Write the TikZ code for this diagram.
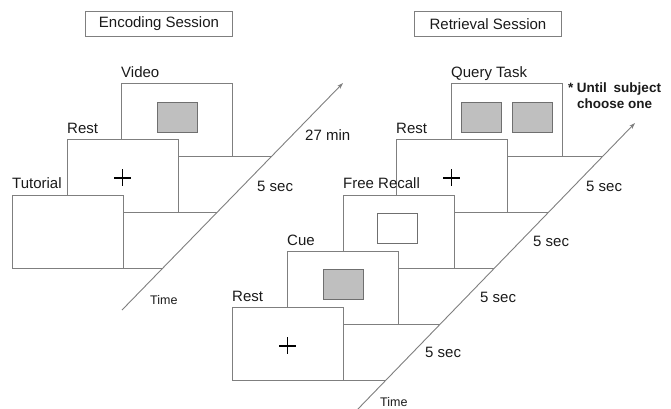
\documentclass[tikz,border=0pt]{standalone}
\usepackage{fontspec}
\setmainfont{Liberation Sans}
\usetikzlibrary{arrows.meta}
\definecolor{linegray}{HTML}{7F7F7F}
\definecolor{stimgray}{HTML}{BFBFBF}
\definecolor{stimedge}{HTML}{6F6F6F}
\definecolor{txt}{HTML}{1A1A1A}
\begin{document}
\begin{tikzpicture}[x=1pt,y=-1pt,
  screen/.style={draw=linegray, fill=white, line width=0.9pt, minimum width=111pt, minimum height=73.5pt, anchor=north west, inner sep=0pt, outer sep=0pt},
  stim/.style={draw=stimedge, fill=stimgray, line width=0.9pt, minimum width=40pt, minimum height=30pt, inner sep=0pt},
  blankstim/.style={stim, fill=white},
  titlebox/.style={draw=linegray, line width=0.9pt, minimum width=147pt, minimum height=25pt, anchor=north west, inner sep=0pt, text=txt, font=\fontsize{15}{18}\selectfont},
  lbl/.style={anchor=base west, inner sep=0pt, text=txt, font=\fontsize{15}{18}\selectfont},
  durlbl/.style={anchor=base west, inner sep=0pt, text=txt, font=\fontsize{15}{18}\selectfont},
  timelbl/.style={anchor=base west, inner sep=0pt, text=txt, font=\fontsize{12.5}{15}\selectfont},
  floorline/.style={draw=linegray, line width=0.9pt},
  timeaxis/.style={draw=linegray, line width=0.9pt, -{Stealth[length=6pt,width=4pt]}},
  cross/.style={draw=black, line width=1.6pt}
]
\useasboundingbox (0,0) rectangle (671,408);

% ---------- titles ----------
\node[titlebox] (enc) at (85,11) {Encoding Session};
\node[titlebox] (ret) at (414,11) {Retrieval Session};

% ---------- encoding session ----------
\coordinate (eA) at (122,310);
\coordinate (eB) at (343,83);

\node[screen] (vid) at (121,83) {};
\node[stim] (vidimg) at (177,117) {};
\draw[floorline] (vid.south east) -- (intersection of eA--eB and vid.south west--vid.south east);
\node[lbl] (vidl) at ([yshift=6pt]vid.north west) {Video};

\node[screen] (rest1) at (67,139) {};
\draw[cross] ([yshift=-2pt]rest1.center) +(-8.5,0) -- +(8.5,0) +(0,-8.5) -- +(0,8.5);
\draw[floorline] (rest1.south east) -- (intersection of eA--eB and rest1.south west--rest1.south east);
\node[lbl] (rest1l) at ([yshift=6pt]rest1.north west) {Rest};

\node[screen] (tut) at (12,195) {};
\draw[floorline] (tut.south east) -- (intersection of eA--eB and tut.south west--tut.south east);
\node[lbl] (tutl) at ([yshift=7pt]tut.north west) {Tutorial};

\draw[timeaxis] (eA) -- (eB);
\node[durlbl] (d27) at (305,140) {27 min};
\node[durlbl] (d5e) at (257,191) {5 sec};
\node[timelbl] (time1) at (150,304) {Time};

% ---------- retrieval session ----------
\coordinate (rA) at (357,410);
\coordinate (rB) at (635,123);

\node[screen] (query) at (451,83) {};
\node[stim] (q1) at (481,117) {};
\node[stim] (q2) at (532,117) {};
\draw[floorline] (query.south east) -- (intersection of rA--rB and query.south west--query.south east);
\node[lbl] (queryl) at ([yshift=6pt]query.north west) {Query Task};

\node[screen] (rest2) at (396,139) {};
\draw[cross] ([yshift=-2pt]rest2.center) +(-8.5,0) -- +(8.5,0) +(0,-8.5) -- +(0,8.5);
\draw[floorline] (rest2.south east) -- (intersection of rA--rB and rest2.south west--rest2.south east);
\node[lbl] (rest2l) at ([yshift=6pt]rest2.north west) {Rest};

\node[screen] (free) at (343,195) {};
\node[blankstim] (freeimg) at (397,228) {};
\draw[floorline] (free.south east) -- (intersection of rA--rB and free.south west--free.south east);
\node[lbl] (freel) at ([yshift=7pt]free.north west) {Free Recall};

\node[screen] (cue) at (287,251) {};
\node[stim] (cueimg) at (343,284) {};
\draw[floorline] (cue.south east) -- (intersection of rA--rB and cue.south west--cue.south east);
\node[lbl] (cuel) at ([yshift=6pt]cue.north west) {Cue};

\node[screen] (rest3) at (232,307) {};
\draw[cross] ([yshift=-2pt]rest3.center) +(-8.5,0) -- +(8.5,0) +(0,-8.5) -- +(0,8.5);
\draw[floorline] (rest3.south east) -- (intersection of rA--rB and rest3.south west--rest3.south east);
\node[lbl] (rest3l) at ([yshift=6pt]rest3.north west) {Rest};

\draw[timeaxis] (rA) -- (rB);
\node[durlbl] (d5a) at (586,191) {5 sec};
\node[durlbl] (d5b) at (533,246) {5 sec};
\node[durlbl] (d5c) at (480,302) {5 sec};
\node[durlbl] (d5d) at (425,357) {5 sec};
\node[timelbl] (time2) at (380,406) {Time};

\node[anchor=north, inner sep=0pt, align=center, text=txt, font=\bfseries\fontsize{13.5}{16}\selectfont] (note) at (614.5,83) {* Until\hspace{3pt} subject\\choose one};
\end{tikzpicture}
\end{document}
